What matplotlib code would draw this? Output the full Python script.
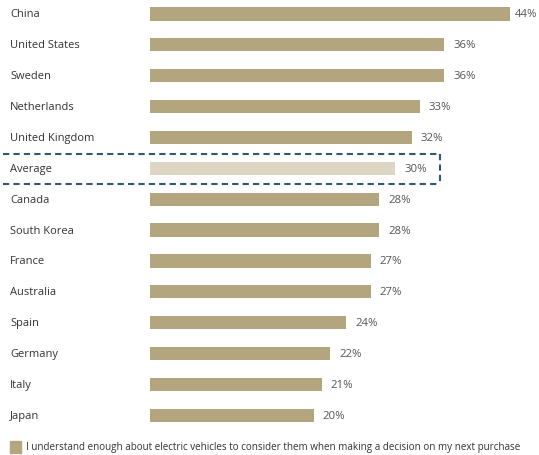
import matplotlib.pyplot as plt
from matplotlib.patches import Rectangle
from matplotlib.lines import Line2D
import matplotlib.transforms as mtransforms

countries = ["China", "United States", "Sweden", "Netherlands", "United Kingdom",
             "Average", "Canada", "South Korea", "France", "Australia", "Spain",
             "Germany", "Italy", "Japan"]
values = [44, 36, 36, 33, 32, 30, 28, 28, 27, 27, 24, 22, 21, 20]
legend_text = ("I understand enough about electric vehicles to consider them "
               "when making a decision on my next purchase")

bar_color = "#b3a67f"
avg_color = "#ddd6c4"
box_color = "#2f5a6b"

plt.rcParams['font.family'] = ['Open Sans', 'DejaVu Sans']

fig = plt.figure(figsize=(5.39, 4.56), dpi=100)
ax = fig.add_axes([150 / 539, 0, 389 / 539, 1])
ax.set_xlim(0, 389 / 8.18)
ax.set_ylim(14.29, -0.486)
ax.axis('off')

ypos = list(range(len(countries)))
colors = [avg_color if c == "Average" else bar_color for c in countries]
ax.barh(ypos, values, height=0.43, color=colors)

trans = mtransforms.blended_transform_factory(fig.transFigure, ax.transData)
for y, name, v in zip(ypos, countries, values):
    ax.text(10 / 539, y, name, transform=trans, ha='left', va='center',
            fontsize=8, color='#333333')
    pad = 0.55 if v == max(values) else 1.1
    ax.text(v + pad, y, f"{v}%", ha='left', va='center', fontsize=8.2,
            color='#555555')

# dashed outline (top, bottom, right) around the average row
avg_i = countries.index("Average")
x0, x1 = 3 / 539, 440 / 539
y0, y1 = avg_i - 0.47, avg_i + 0.5
for xs, ys in [((x0, x1), (y0, y0)), ((x0, x1), (y1, y1)), ((x1, x1), (y0, y1))]:
    ax.add_line(Line2D(xs, ys, transform=trans, color=box_color, linewidth=1.5,
                       linestyle=(0, (3, 2)), clip_on=False))

# legend
fig.patches.append(Rectangle((10 / 539, 2 / 456), 11 / 539, 12 / 456,
                             transform=fig.transFigure, color=bar_color))
fig.text(26 / 539, 8 / 456, legend_text, ha='left', va='center', fontsize=7.15,
         color='#333333')

fig.savefig("out.png", dpi=100)
